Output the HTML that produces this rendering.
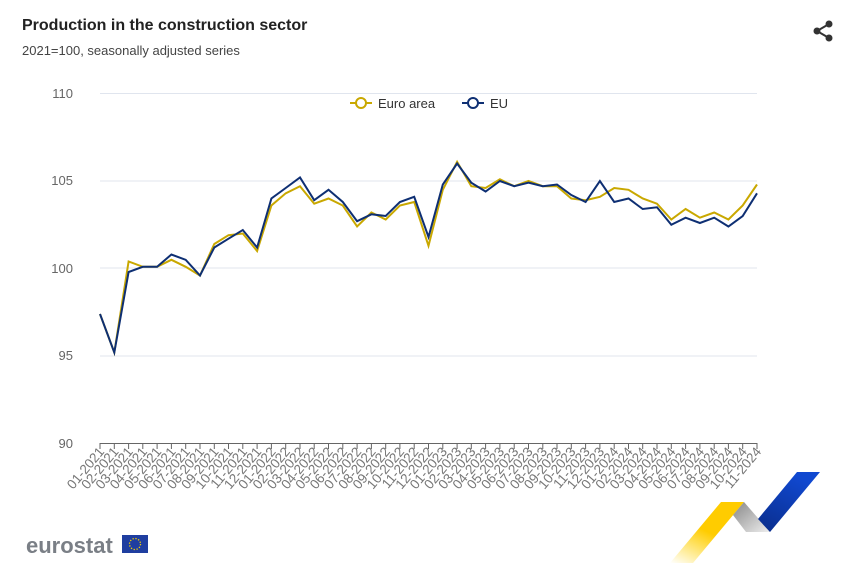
<!DOCTYPE html>
<html><head><meta charset="utf-8"><style>
body{margin:0;background:#fff;font-family:"Liberation Sans",Arial,sans-serif}
</style></head><body>
<svg width="864" height="580" xmlns="http://www.w3.org/2000/svg" font-family="Liberation Sans, Arial, sans-serif">
<text x="22" y="30" font-size="16" font-weight="bold" fill="#222">Production in the construction sector</text>
<text x="22" y="55" font-size="13" fill="#444">2021=100, seasonally adjusted series</text>
<g fill="#333"><circle cx="829" cy="24" r="3.5"/><circle cx="817" cy="31" r="3.5"/><circle cx="829" cy="38" r="3.5"/></g>
<path d="M829 24L817 31L829 38" stroke="#333" stroke-width="2" fill="none"/>
<g stroke="#e0e5ee" stroke-width="1">
<line x1="100" x2="757" y1="93.5" y2="93.5"/><line x1="100" x2="757" y1="181" y2="181"/>
<line x1="100" x2="757" y1="268" y2="268"/><line x1="100" x2="757" y1="356" y2="356"/>
</g>
<line x1="100" x2="757" y1="443.5" y2="443.5" stroke="#666"/>
<g font-size="13" fill="#666" text-anchor="end">
<text x="73" y="98">110</text><text x="73" y="185">105</text><text x="73" y="273">100</text><text x="73" y="360">95</text><text x="73" y="448">90</text>
</g>
<path stroke="#666" stroke-width="1" d="M100 443v6M114.3 443v6M128.6 443v6M142.8 443v6M157.1 443v6M171.4 443v6M185.7 443v6M200 443v6M214.3 443v6M228.5 443v6M242.8 443v6M257.1 443v6M271.4 443v6M285.7 443v6M300 443v6M314.2 443v6M328.5 443v6M342.8 443v6M357.1 443v6M371.4 443v6M385.7 443v6M399.9 443v6M414.2 443v6M428.5 443v6M442.8 443v6M457.1 443v6M471.3 443v6M485.6 443v6M499.9 443v6M514.2 443v6M528.5 443v6M542.8 443v6M557 443v6M571.3 443v6M585.6 443v6M599.9 443v6M614.2 443v6M628.5 443v6M642.7 443v6M657 443v6M671.3 443v6M685.6 443v6M699.9 443v6M714.2 443v6M728.4 443v6M742.7 443v6M757 443v6"/>
<g font-size="13.5" fill="#777" text-anchor="end">
<text transform="translate(105,452) rotate(-50)">01-2021</text>
<text transform="translate(119.3,452) rotate(-50)">02-2021</text>
<text transform="translate(133.6,452) rotate(-50)">03-2021</text>
<text transform="translate(147.8,452) rotate(-50)">04-2021</text>
<text transform="translate(162.1,452) rotate(-50)">05-2021</text>
<text transform="translate(176.4,452) rotate(-50)">06-2021</text>
<text transform="translate(190.7,452) rotate(-50)">07-2021</text>
<text transform="translate(205,452) rotate(-50)">08-2021</text>
<text transform="translate(219.3,452) rotate(-50)">09-2021</text>
<text transform="translate(233.5,452) rotate(-50)">10-2021</text>
<text transform="translate(247.8,452) rotate(-50)">11-2021</text>
<text transform="translate(262.1,452) rotate(-50)">12-2021</text>
<text transform="translate(276.4,452) rotate(-50)">01-2022</text>
<text transform="translate(290.7,452) rotate(-50)">02-2022</text>
<text transform="translate(305,452) rotate(-50)">03-2022</text>
<text transform="translate(319.2,452) rotate(-50)">04-2022</text>
<text transform="translate(333.5,452) rotate(-50)">05-2022</text>
<text transform="translate(347.8,452) rotate(-50)">06-2022</text>
<text transform="translate(362.1,452) rotate(-50)">07-2022</text>
<text transform="translate(376.4,452) rotate(-50)">08-2022</text>
<text transform="translate(390.7,452) rotate(-50)">09-2022</text>
<text transform="translate(404.9,452) rotate(-50)">10-2022</text>
<text transform="translate(419.2,452) rotate(-50)">11-2022</text>
<text transform="translate(433.5,452) rotate(-50)">12-2022</text>
<text transform="translate(447.8,452) rotate(-50)">01-2023</text>
<text transform="translate(462.1,452) rotate(-50)">02-2023</text>
<text transform="translate(476.3,452) rotate(-50)">03-2023</text>
<text transform="translate(490.6,452) rotate(-50)">04-2023</text>
<text transform="translate(504.9,452) rotate(-50)">05-2023</text>
<text transform="translate(519.2,452) rotate(-50)">06-2023</text>
<text transform="translate(533.5,452) rotate(-50)">07-2023</text>
<text transform="translate(547.8,452) rotate(-50)">08-2023</text>
<text transform="translate(562,452) rotate(-50)">09-2023</text>
<text transform="translate(576.3,452) rotate(-50)">10-2023</text>
<text transform="translate(590.6,452) rotate(-50)">11-2023</text>
<text transform="translate(604.9,452) rotate(-50)">12-2023</text>
<text transform="translate(619.2,452) rotate(-50)">01-2024</text>
<text transform="translate(633.5,452) rotate(-50)">02-2024</text>
<text transform="translate(647.7,452) rotate(-50)">03-2024</text>
<text transform="translate(662,452) rotate(-50)">04-2024</text>
<text transform="translate(676.3,452) rotate(-50)">05-2024</text>
<text transform="translate(690.6,452) rotate(-50)">06-2024</text>
<text transform="translate(704.9,452) rotate(-50)">07-2024</text>
<text transform="translate(719.2,452) rotate(-50)">08-2024</text>
<text transform="translate(733.4,452) rotate(-50)">09-2024</text>
<text transform="translate(747.7,452) rotate(-50)">10-2024</text>
<text transform="translate(762,452) rotate(-50)">11-2024</text>
</g>
<g transform="translate(350,103)">
<line x1="0" x2="22" y1="0" y2="0" stroke="#c9a800" stroke-width="2"/><circle cx="11" cy="0" r="5" fill="#fff" stroke="#c9a800" stroke-width="2"/>
<text x="28" y="5" font-size="13" fill="#333">Euro area</text>
<line x1="112" x2="134" y1="0" y2="0" stroke="#0e2f73" stroke-width="2"/><circle cx="123" cy="0" r="5" fill="#fff" stroke="#0e2f73" stroke-width="2"/>
<text x="140" y="5" font-size="13" fill="#333">EU</text>
</g>
<polyline id="ea" fill="none" stroke="#c9a800" stroke-width="2"/>
<polyline id="eu" fill="none" stroke="#0e2f73" stroke-width="2"/>
<text x="26" y="553" font-size="22" font-weight="bold" fill="#7a7f86">eurostat</text>
<rect x="122" y="535" width="26" height="18" fill="#1f3ea0"/>
<circle cx="135" cy="544" r="5.5" fill="none" stroke="#f5d000" stroke-width="1.3" stroke-dasharray="1.3 1.6"/>
<defs>
<linearGradient id="gy" x1="0" y1="1" x2="0.6" y2="0"><stop offset="0" stop-color="#ffd400" stop-opacity="0"/><stop offset="0.6" stop-color="#ffcc00"/></linearGradient>
<linearGradient id="gg" x1="0" y1="0" x2="1" y2="1"><stop offset="0" stop-color="#888"/><stop offset="1" stop-color="#eee"/></linearGradient>
<linearGradient id="gb" x1="0" y1="1" x2="0.5" y2="0"><stop offset="0" stop-color="#0a2d8a"/><stop offset="1" stop-color="#1048d0"/></linearGradient>
</defs>
<polygon points="670,563 693,563 744,502 721,502" fill="url(#gy)"/>
<polygon points="733,515 744,502 770,532 746,532" fill="url(#gg)"/>
<polygon points="758,519 797,472 820,472 770,532" fill="url(#gb)"/>
<script>
var eu=[97.4,95.2,99.8,100.1,100.1,100.8,100.5,99.6,101.2,101.7,102.2,101.2,104.0,104.6,105.2,103.9,104.5,103.8,102.7,103.1,103.0,103.8,104.1,101.8,104.8,106.0,104.9,104.4,105.0,104.7,104.9,104.7,104.8,104.2,103.8,105.0,103.8,104.0,103.4,103.5,102.5,102.9,102.6,102.9,102.4,103.0,104.3];
var ea=[97.4,95.2,100.4,100.1,100.1,100.5,100.1,99.6,101.4,101.9,102.0,101.0,103.6,104.3,104.7,103.7,104.0,103.6,102.4,103.2,102.8,103.6,103.8,101.3,104.5,106.1,104.7,104.6,105.1,104.7,105.0,104.7,104.7,104.0,103.9,104.1,104.6,104.5,104.0,103.7,102.8,103.4,102.9,103.2,102.8,103.6,104.8];
function X(i){return 100+i*657/46}function Y(v){return 443.5-(v-90)*17.5}
function pts(a){return a.map(function(v,i){return X(i).toFixed(1)+","+Y(v).toFixed(1)}).join(" ")}
document.getElementById("ea").setAttribute("points",pts(ea));
document.getElementById("eu").setAttribute("points",pts(eu));
</script>
</svg>
</body></html>
